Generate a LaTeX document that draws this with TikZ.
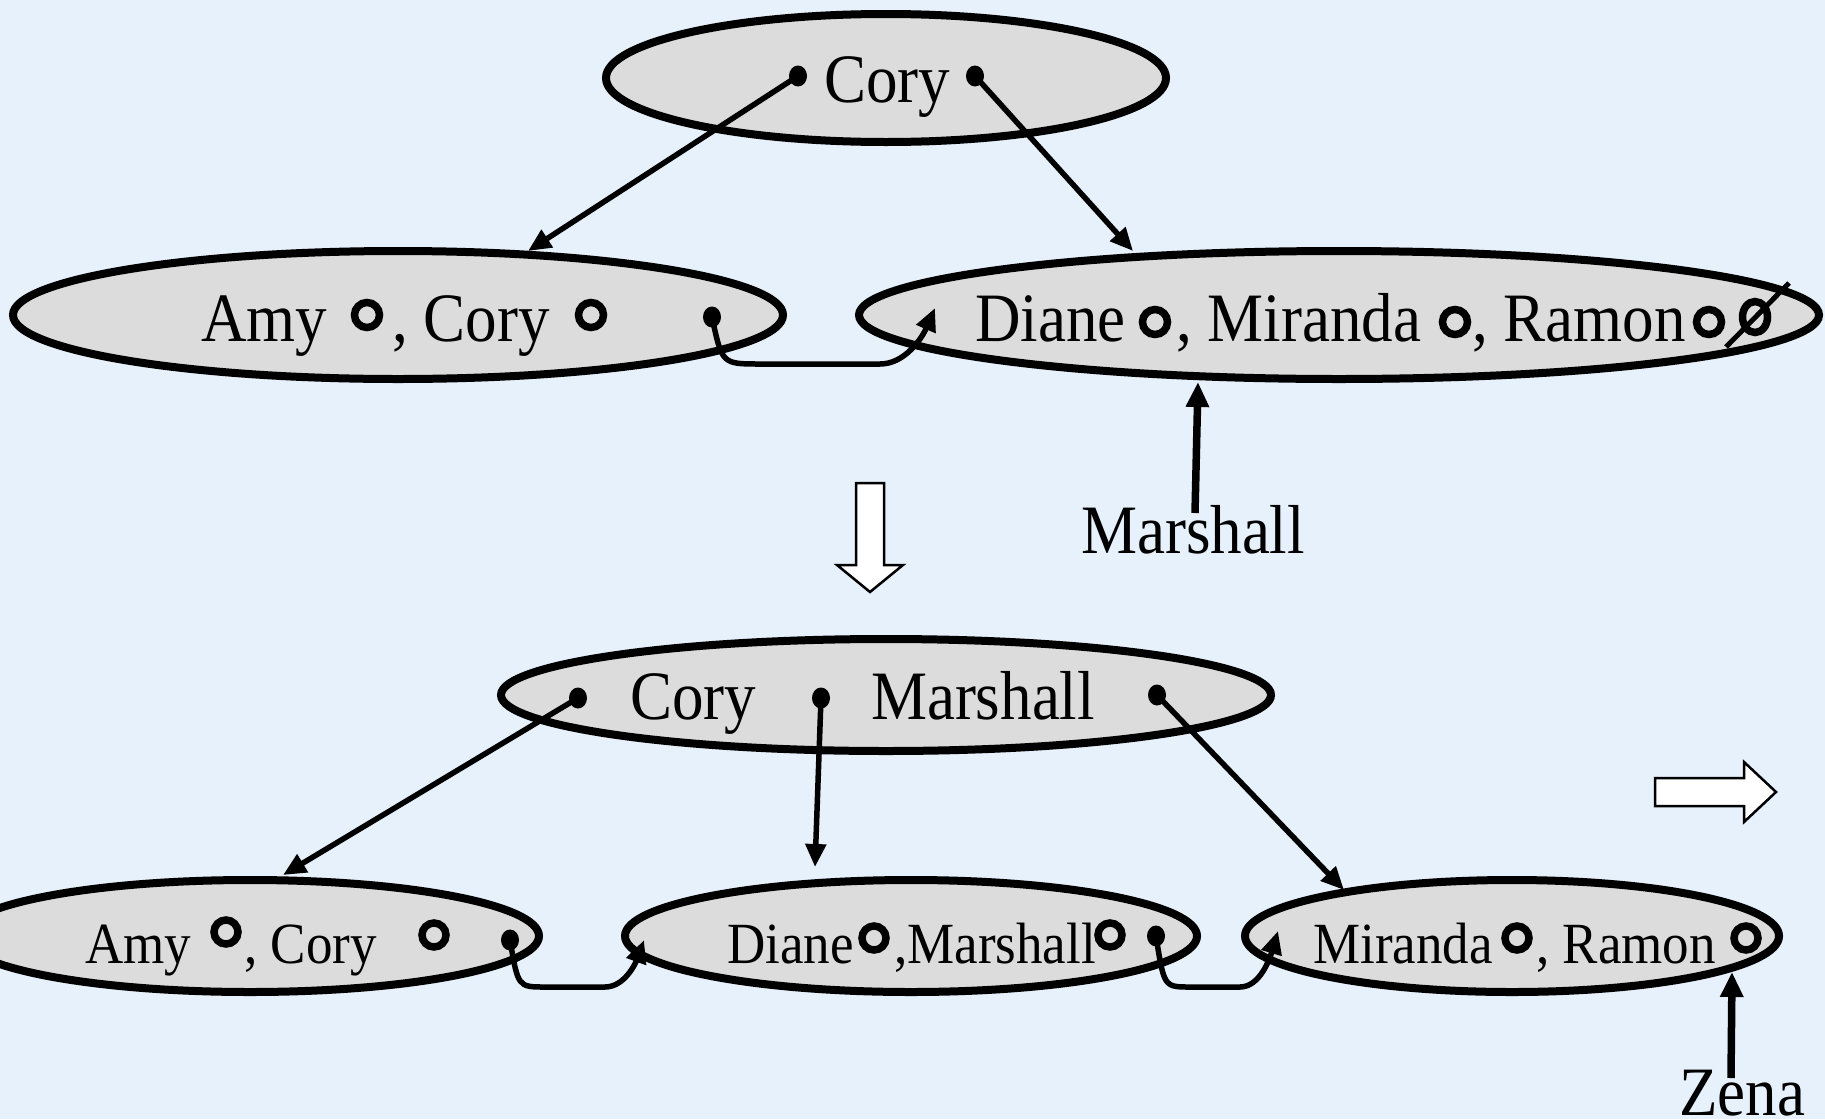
\documentclass[tikz,border=0pt]{standalone}
\usepackage{fontspec}
\usepackage{graphicx}
\setmainfont{Liberation Serif}
\usetikzlibrary{arrows.meta,shapes.geometric}
\definecolor{bg}{HTML}{E6F1FB}
\definecolor{ellfill}{HTML}{DCDCDC}
\newcommand{\tx}[1]{\scalebox{1}[1.1]{#1}}
\begin{document}
\begin{tikzpicture}[x=1pt,y=-1pt,
 ell/.style={draw,ellipse,fill=ellfill,line width=8pt,inner sep=0pt},
 big/.style={font=\fontsize{63}{70}\selectfont,inner sep=0pt,anchor=base west},
 small/.style={font=\fontsize{53}{60}\selectfont,inner sep=0pt,anchor=base west},
 ring/.style={line width=7.5pt},
 conn/.style={line width=5.5pt,-{Triangle[length=23pt,width=20pt]}},
 heavyconn/.style={line width=7.5pt,-{Triangle[length=25pt,width=22pt]}},
 hollow/.style={draw=black,fill=white,line width=2.5pt},
]
\fill[bg] (0,0) rectangle (1825,1119);
\useasboundingbox (0,0) rectangle (1825,1119);
\clip (0,0) rectangle (1825,1119);

% ---------- top part ----------
\node[ell,minimum width=560pt,minimum height=128pt] (top) at (886,78) {};
\node[big,anchor=base] (cory) at (887,102) {\tx{Cory}};
\coordinate (t1) at (798,76);
\coordinate (t2) at (975,76);

\node[ell,minimum width=770pt,minimum height=128pt] (A1) at (398,315) {};
\node[big] (a1amy) at (201,341) {\tx{Amy}};
\node[big] (a1cory) at (392,341) {\tx{, Cory}};
\draw[ring] (367,315) circle (12.5pt);
\draw[ring] (591,315) circle (12.5pt);
\coordinate (a1d) at (712,317);

\node[ell,minimum width=960pt,minimum height=128pt] (D1) at (1339,315) {};
\node[big] (d1diane) at (975,341) {\tx{Diane}};
\node[big] (d1mir) at (1176,341) {\tx{, Miranda}};
\node[big] (d1ram) at (1472,341) {\tx{, Ramon}};
\draw[ring] (1155,322) circle (12.5pt);
\draw[ring] (1455,322) circle (12.5pt);
\draw[ring] (1709,322) circle (12.5pt);
\draw[ring] (1755,317) ellipse (12.5pt and 15.5pt);
\coordinate (sl1) at (1726,347);
\coordinate (sl2) at (1789,283);
\draw[line width=5pt] (sl1) -- (sl2);

\coordinate (a1tip) at (528,251);
\coordinate (d1tip) at (1133,251);
\coordinate (d1in) at (935,308);
\draw[conn] (t1) -- (a1tip);
\draw[conn] (t2) -- (d1tip);
\draw[conn] (a1d) .. controls (722,364) .. (760,364) -- (880,364) .. controls (905,364) and (922,338) .. (d1in);

\node[big,anchor=base] (marsh) at (1193,553) {\tx{Marshall}};
\coordinate (m1) at (1195,513);
\coordinate (m2) at (1198,382);
\draw[heavyconn] (m1) -- (m2);

\fill[black] (t1) ellipse (9pt and 10.5pt);
\fill[black] (t2) ellipse (9pt and 10.5pt);
\fill[black] (a1d) ellipse (9pt and 10.5pt);

% hollow down arrow
\draw[hollow] (856,483) -- (884,483) -- (884,565) -- (903,565) -- (870,592) -- (837,565) -- (856,565) -- cycle;

% ---------- bottom part ----------
\node[ell,minimum width=770pt,minimum height=112pt] (CM) at (886,695) {};
\node[big,anchor=base] (cmcory) at (693,719) {\tx{Cory}};
\node[big,anchor=base] (cmmar) at (983,719) {\tx{Marshall}};
\coordinate (c1) at (578,698);
\coordinate (c2) at (821,698);
\coordinate (c3) at (1157,695);

\node[ell,minimum width=578pt,minimum height=112pt] (B1) at (250,936) {};
\node[small] (b1amy) at (85,963) {\tx{Amy}};
\node[small] (b1cory) at (244,963) {\tx{, Cory}};
\draw[ring] (226,932) circle (12pt);
\draw[ring] (434,935) circle (12pt);
\coordinate (b1d) at (510,940);

\node[ell,minimum width=572pt,minimum height=112pt] (B2) at (911,936) {};
\node[small] (b2diane) at (727,963) {\tx{Diane}};
\node[small] (b2mar) at (894,963) {\tx{,Marshall}};
\draw[ring] (874,938) circle (12pt);
\draw[ring] (1110,935) circle (12pt);
\coordinate (b2d) at (1156,936);
\coordinate (b2in) at (644,940);

\node[ell,minimum width=534pt,minimum height=112pt] (B3) at (1512,936) {};
\node[small] (b3mir) at (1313,963) {\tx{Miranda}};
\node[small] (b3ram) at (1536,963) {\tx{, Ramon}};
\draw[ring] (1517,938) circle (12pt);
\draw[ring] (1746,938) circle (12pt);
\coordinate (b3in) at (1278,931);

\coordinate (b1tip) at (283,875);
\coordinate (b2tip) at (815,867);
\coordinate (b3tip) at (1344,890);
\draw[conn] (c1) -- (b1tip);
\draw[conn] (c2) -- (b2tip);
\draw[conn] (c3) -- (b3tip);
\draw[conn] (b1d) .. controls (518,987) .. (545,987) -- (605,987) .. controls (625,987) and (636,962) .. (b2in);
\draw[conn] (b2d) .. controls (1164,987) .. (1190,987) -- (1240,987) .. controls (1260,987) and (1270,958) .. (b3in);

\fill[black] (c1) ellipse (9pt and 10.5pt);
\fill[black] (c2) ellipse (9pt and 10.5pt);
\fill[black] (c3) ellipse (9pt and 10.5pt);
\fill[black] (b1d) ellipse (9pt and 10.5pt);
\fill[black] (b2d) ellipse (9pt and 10.5pt);

\node[big,anchor=base] (zena) at (1742,1115) {\tx{Zena}};
\coordinate (z1) at (1731,1078);
\coordinate (z2) at (1732,972);
\draw[heavyconn] (z1) -- (z2);

% hollow right arrow
\draw[hollow] (1655,778) -- (1744,778) -- (1744,762) -- (1776,792) -- (1744,822) -- (1744,806) -- (1655,806) -- cycle;
\end{tikzpicture}
\end{document}
